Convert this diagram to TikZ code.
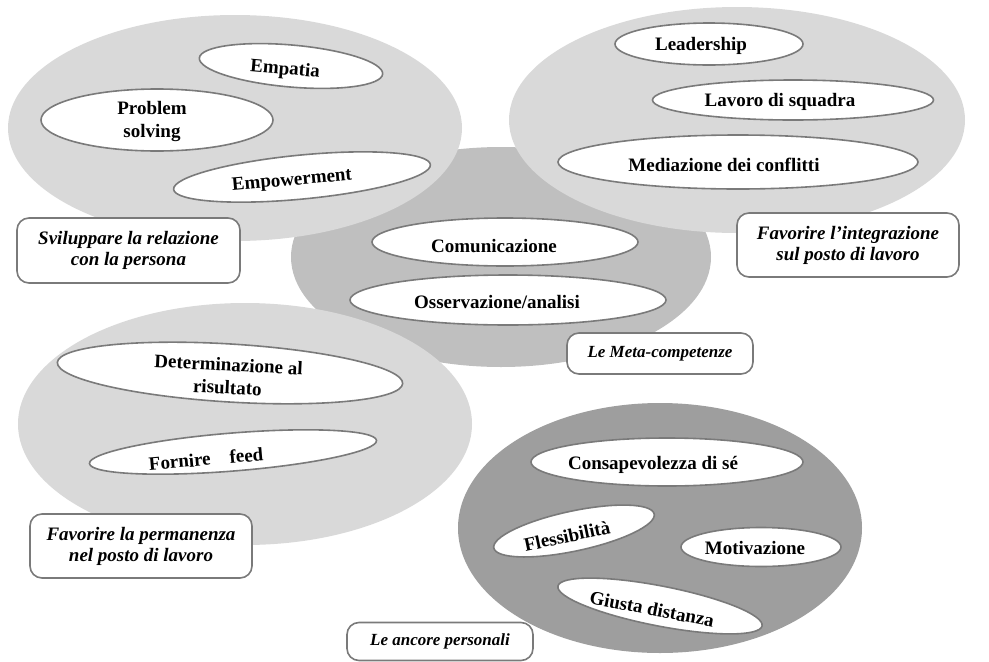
\documentclass[tikz,border=0pt]{standalone}
\usepackage{fontspec}
\setmainfont{Liberation Serif}
\usetikzlibrary{shapes.geometric,calc}
\definecolor{lightg}{RGB}{217,217,217}
\definecolor{midg}{RGB}{191,191,191}
\definecolor{darkg}{RGB}{158,158,158}
\definecolor{edgeg}{RGB}{122,122,122}
\begin{document}
\begin{tikzpicture}[x=1pt,y=-1pt,
  group/.style={ellipse, draw=none, inner sep=0pt},
  bub/.style={ellipse, draw=edgeg, line width=1.6pt, fill=white, inner sep=0pt},
  lbl/.style={font=\fontsize{19}{23}\selectfont\bfseries, align=center, inner sep=0pt},
  tag/.style={rectangle, rounded corners=12pt, draw=edgeg, line width=1.6pt, fill=white,
    inner sep=0pt, font=\fontsize{19}{21}\selectfont\bfseries\itshape, align=center},
  tagsmall/.style={tag, font=\fontsize{17}{20}\selectfont\bfseries\itshape}]
\useasboundingbox (0,0) rectangle (989,662);
% group ellipses
\node[group, fill=midg, minimum width=420pt, minimum height=220pt] (gmeta) at (501,257) {};
\node[group, fill=lightg, minimum width=454pt, minimum height=226pt] (grel) at (235,128) {};
\node[group, fill=lightg, minimum width=456pt, minimum height=226pt] (gint) at (737,120) {};
\node[group, fill=lightg, minimum width=454pt, minimum height=242pt] (gperm) at (245,424) {};
\node[group, fill=darkg, minimum width=404pt, minimum height=250pt] (ganc) at (660,528) {};
% bubbles: relazione
\node[bub, rotate=-5, minimum width=184pt, minimum height=42pt] (emp) at (291,66) {};
\node[lbl, rotate=-5] (empt) at ($(emp)+(-6,4)$) {Empatia};
\node[bub, minimum width=232pt, minimum height=62pt] (prob) at (157,120) {};
\node[lbl] (probt) at ($(prob)+(-5,2)$) {Problem\\solving};
\node[bub, rotate=5.5, minimum width=258pt, minimum height=44pt] (empw) at (302,177) {};
\node[lbl, rotate=5] (empwt) at ($(empw)+(-10,4)$) {Empowerment};
% bubbles: integrazione
\node[bub, minimum width=188pt, minimum height=42pt] (lead) at (709,44) {};
\node[lbl] (leadt) at ($(lead)+(-8,2)$) {Leadership};
\node[bub, minimum width=281pt, minimum height=40pt] (lav) at (793,100) {};
\node[lbl] (lavt) at ($(lav)+(-13,2)$) {Lavoro di squadra};
\node[bub, minimum width=360pt, minimum height=54pt] (med) at (738,162) {};
\node[lbl] (medt) at ($(med)+(-14,3)$) {Mediazione dei conflitti};
% bubbles: meta
\node[bub, minimum width=266pt, minimum height=48pt] (com) at (505,242) {};
\node[lbl] (comt) at ($(com)+(-11,4)$) {Comunicazione};
\node[bub, minimum width=316pt, minimum height=50pt] (oss) at (508,300) {};
\node[lbl] (osst) at ($(oss)+(-11,2)$) {Osservazione/analisi};
% bubbles: permanenza
\node[bub, rotate=-3.5, minimum width=346pt, minimum height=58pt] (det) at (230,373) {};
\node[lbl, rotate=-3] (dett) at ($(det)+(-2,3)$) {Determinazione al\\risultato};
\node[bub, rotate=4.6, minimum width=288pt, minimum height=38pt] (forn) at (233,452) {};
\node[lbl, rotate=5] (fornt) at ($(forn)+(-27,7)$) {Fornire\quad feed};
% bubbles: ancore
\node[bub, minimum width=272pt, minimum height=48pt] (cons) at (667,462) {};
\node[lbl] (const) at ($(cons)+(-14,3)$) {Consapevolezza di sé};
\node[bub, rotate=12, minimum width=164pt, minimum height=40pt] (fles) at (574,531) {};
\node[lbl, rotate=12] (flest) at ($(fles)+(-7,5)$) {Flessibilità};
\node[bub, minimum width=160pt, minimum height=39pt] (mot) at (761,547) {};
\node[lbl] (mott) at ($(mot)+(-6,1)$) {Motivazione};
\node[bub, rotate=-11, minimum width=208pt, minimum height=40pt] (giu) at (660,606) {};
\node[lbl, rotate=-11] (giut) at ($(giu)+(-8,3)$) {Giusta distanza};
% tags
\node[tag, minimum width=223pt, minimum height=65pt] (trel) at (128.5,250.5) {Sviluppare la relazione\\con la persona};
\node[tag, minimum width=222pt, minimum height=64pt] (tint) at (848,245) {Favorire l’integrazione\\sul posto di lavoro};
\node[tagsmall, minimum width=186pt, minimum height=41pt] (tmeta) at (660,353.5) {Le Meta-competenze};
\node[tag, minimum width=222pt, minimum height=64pt] (tperm) at (141,546) {Favorire la permanenza\\nel posto di lavoro};
\node[tagsmall, minimum width=186pt, minimum height=38pt] (tanc) at (440,641.5) {Le ancore personali};
\end{tikzpicture}
\end{document}
